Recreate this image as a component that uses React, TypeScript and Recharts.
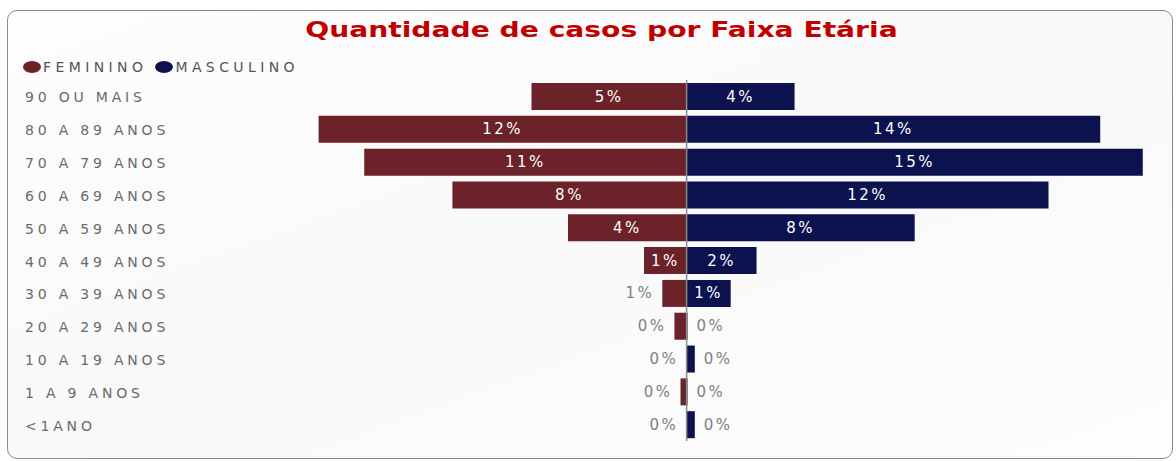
import { BarChart, Bar, XAxis, YAxis, LabelList, ReferenceLine } from 'recharts';

const faixas = [
  '90 OU MAIS',
  '80 A 89 ANOS',
  '70 A 79 ANOS',
  '60 A 69 ANOS',
  '50 A 59 ANOS',
  '40 A 49 ANOS',
  '30 A 39 ANOS',
  '20 A 29 ANOS',
  '10 A 19 ANOS',
  '1 A 9 ANOS',
  '<1ANO',
];
// percentuais por faixa
const feminino = [5.1, 12.1, 10.6, 7.7, 3.9, 1.4, 0.8, 0.4, 0.01, 0.2, 0.01];
const masculino = [3.55, 13.6, 15.0, 11.9, 7.5, 2.3, 1.45, 0.03, 0.27, 0.03, 0.27];

const COR_FEM = '#6b2228';
const COR_MASC = '#0b124d';
const FONT = '"DejaVu Sans", sans-serif';

const data = faixas.map((faixa, i) => ({
  faixa,
  fem: -feminino[i],
  masc: masculino[i],
}));

function BarLabel(props: any) {
  const { x, y, width, height, value, side } = props;
  const left = Math.min(x, x + width);
  const w = Math.abs(width);
  const cy = y + height / 2;
  const text = `${Math.round(Math.abs(value))}%`;
  const inside = w >= 35;
  let tx = left + w / 2;
  let anchor: 'middle' | 'start' | 'end' = 'middle';
  if (!inside) {
    if (side === 'fem') {
      tx = left - 8;
      anchor = 'end';
    } else {
      tx = left + w + 9;
      anchor = 'start';
    }
  }
  return (
    <text
      x={tx}
      y={cy}
      dy={5}
      textAnchor={anchor}
      fill={inside ? '#ffffff' : '#808080'}
      fontSize={15}
      fontFamily={FONT}
      letterSpacing={2.5}
    >
      {text}
    </text>
  );
}

function FaixaTick(props: any) {
  const { y, payload } = props;
  return (
    <text x={25} y={y} dy={6} textAnchor="start" fill="#6a6a6a" fontSize={14} fontFamily={FONT} letterSpacing={3.8}>
      {payload.value}
    </text>
  );
}

export default function App() {
  return (
    <div style={{ position: 'absolute', left: 0, top: 0, width: 1176, height: 461, background: '#fff', overflow: 'hidden' }}>
      <div
        style={{
          position: 'absolute',
          left: 7,
          top: 10,
          width: 1164,
          height: 447,
          border: '1.5px solid #8a8a8a',
          borderRadius: 10,
          background: 'linear-gradient(160deg, #fdfdfd 0%, #f9f9f9 50%, #fdfdfd 100%)',
        }}
      />
      <div style={{ position: 'absolute', left: 0, top: 18, width: 1202, textAlign: 'center', lineHeight: '24px' }}>
        <span
          style={{
            display: 'inline-block',
            transform: 'scaleX(1.28)',
            fontFamily: FONT,
            fontWeight: 'bold',
            fontSize: 22,
            color: '#c00000',
          }}
        >
          Quantidade de casos por Faixa Etária
        </span>
      </div>
      <div
        style={{
          position: 'absolute',
          left: 23,
          top: 58,
          display: 'flex',
          alignItems: 'center',
          fontFamily: FONT,
          fontSize: 14,
          color: '#555',
          letterSpacing: 4.4,
          lineHeight: '18px',
        }}
      >
        <span style={{ width: 18, height: 12, borderRadius: '50%', background: COR_FEM, display: 'inline-block', marginRight: 2 }} />
        <span>FEMININO</span>
        <span style={{ width: 18, height: 12, borderRadius: '50%', background: COR_MASC, display: 'inline-block', marginLeft: 8, marginRight: 2 }} />
        <span>MASCULINO</span>
      </div>
      <div style={{ position: 'absolute', left: 0, top: 0 }}>
        <BarChart
          width={1176}
          height={461}
          data={data}
          layout="vertical"
          stackOffset="sign"
          barSize={27}
          margin={{ top: 80, right: 18, bottom: 20, left: 0 }}
        >
          <XAxis type="number" domain={[-16, 15.5]} hide />
          <YAxis
            type="category"
            dataKey="faixa"
            width={200}
            axisLine={false}
            tickLine={false}
            tick={<FaixaTick />}
            interval={0}
          />
          <Bar dataKey="fem" stackId="a" fill={COR_FEM} isAnimationActive={false}>
            <LabelList dataKey="fem" content={(p: any) => <BarLabel {...p} side="fem" />} />
          </Bar>
          <Bar dataKey="masc" stackId="a" fill={COR_MASC} isAnimationActive={false}>
            <LabelList dataKey="masc" content={(p: any) => <BarLabel {...p} side="masc" />} />
          </Bar>
          <ReferenceLine x={0} stroke="#8c8c8c" strokeWidth={1.5} />
        </BarChart>
      </div>
    </div>
  );
}
